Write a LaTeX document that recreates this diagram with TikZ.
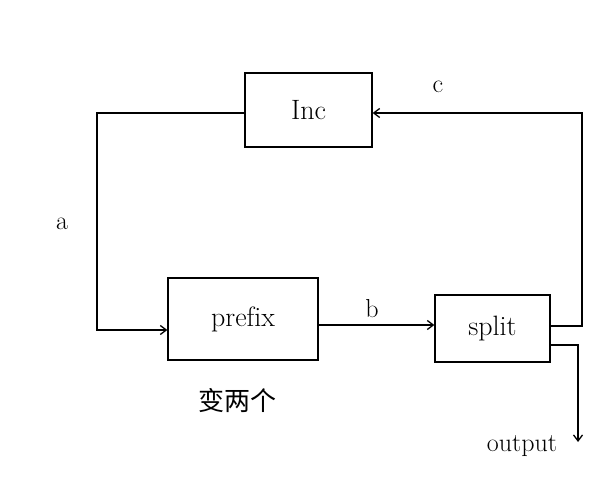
\documentclass[tikz,border=0pt]{standalone}
\usepackage{fontspec}
\newfontfamily\cjk{Noto Sans CJK SC}
\usetikzlibrary{arrows.meta}
\begin{document}
\begin{tikzpicture}[x=1pt,y=-1pt,
  blk/.style={draw,line width=1.3pt,minimum width=0pt,inner sep=0pt,font=\fontsize{28}{32}\selectfont},
  wire/.style={line width=1.3pt},
  arr/.style={wire,-{Straight Barb[length=6pt,width=9pt]}},
  lbl/.style={font=\fontsize{26}{30}\selectfont}]
\useasboundingbox (0,0) rectangle (608,482);
\node[blk,minimum width=127pt,minimum height=74pt] (inc) at (308.5,110) {Inc};
\node[blk,minimum width=150pt,minimum height=82pt] (prefix) at (243,319) {pref\kern0pt ix};
\node[blk,minimum width=115pt,minimum height=67pt] (split) at (492.5,328.5) {split};
\coordinate (tl) at (97,113);
\coordinate (bl) at (97,330);
\coordinate (tr) at (582,113);
\coordinate (sr) at (582,326);
\coordinate (or) at (578,345);
\coordinate (out) at (578,442);
\draw[arr] (inc.west |- tl) -- (tl) -- (bl) -- (prefix.west |- bl);
\draw[arr] (prefix.east |- 0,325) -- (split.west |- 0,325);
\draw[arr] (split.east |- sr) -- (sr) -- (tr) -- (inc.east |- tr);
\draw[arr] (split.east |- or) -- (or) -- (out);
\node[lbl] (a) at (62,224) {a};
\node[lbl] (b) at (372,309) {b};
\node[lbl] (c) at (438,87) {c};
\node[lbl] (o) at (522,446) {output};
\node[font=\cjk\fontsize{26}{30}\selectfont] (cn) at (237,401) {变两个};
\end{tikzpicture}
\end{document}
